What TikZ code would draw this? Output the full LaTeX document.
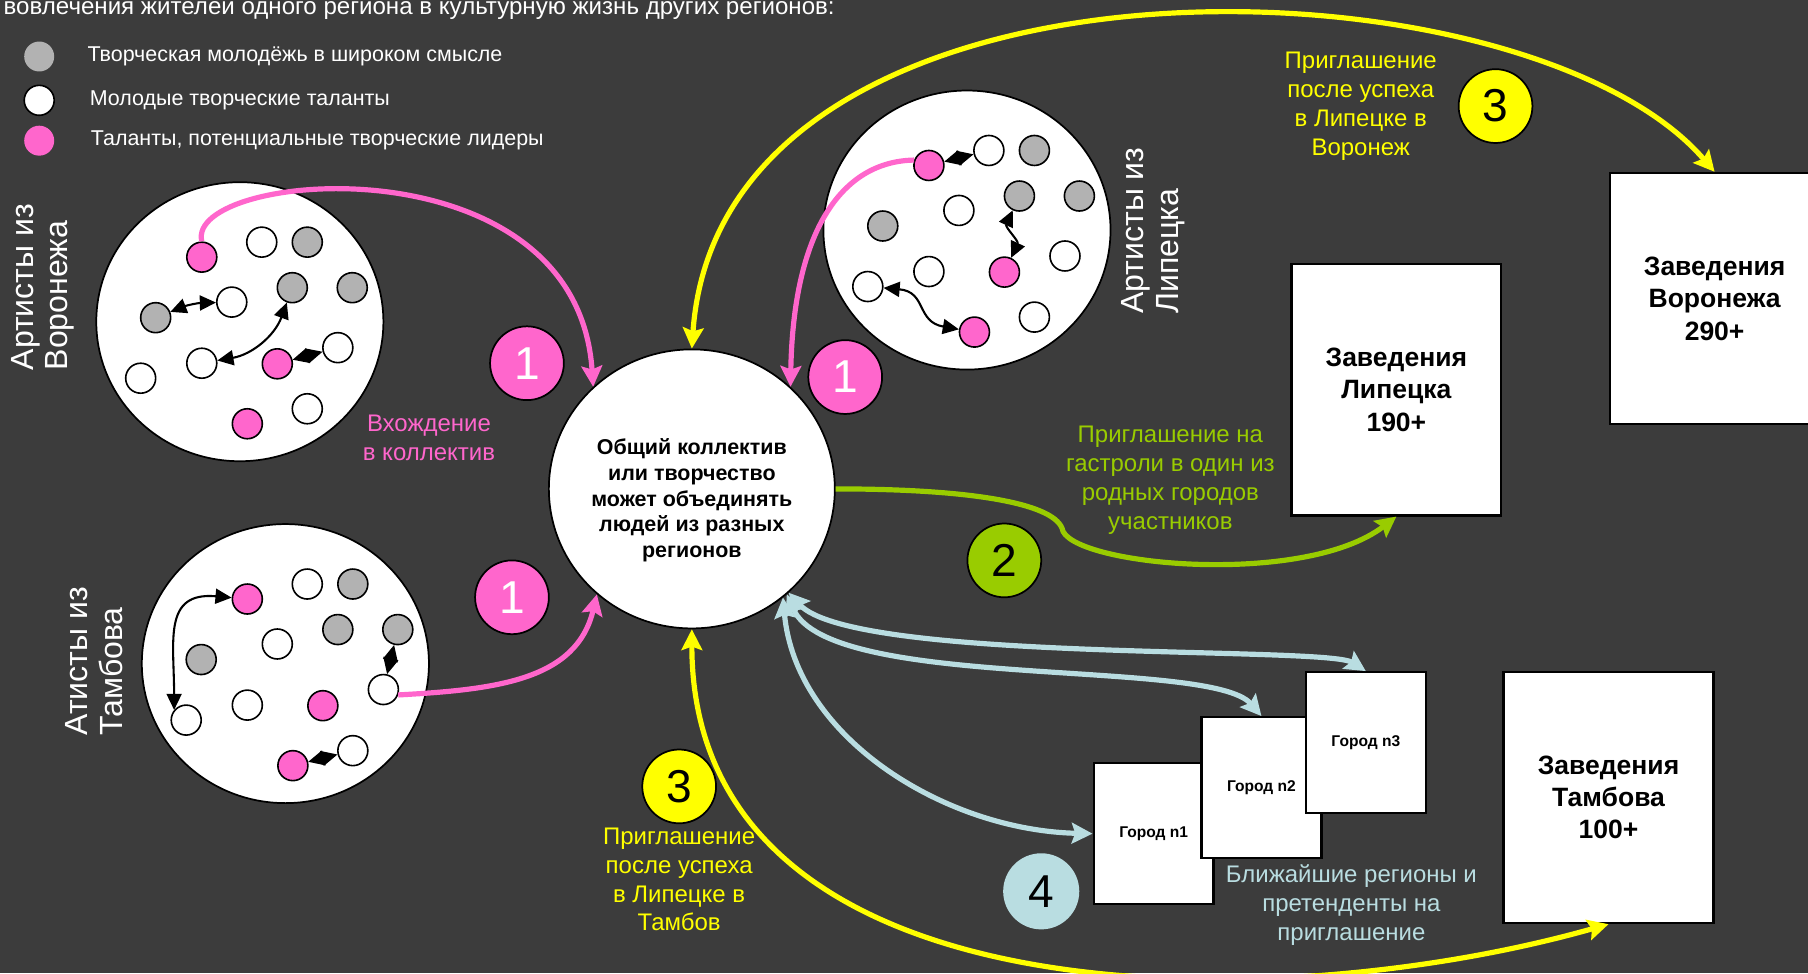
\documentclass[tikz,border=0pt]{standalone}
\usepackage{fontspec}
\setmainfont{Liberation Sans}
\usetikzlibrary{positioning, calc, shapes.geometric, arrows.meta}

\definecolor{boardgray}{HTML}{3C3C3C}
\definecolor{dotgray}{HTML}{B2B2B2}
\definecolor{talpink}{HTML}{FF66CC}
\definecolor{invyellow}{HTML}{FFFF00}
\definecolor{tourgreen}{HTML}{99CC00}
\definecolor{nearblue}{HTML}{B9DDE1}

\begin{document}
\begin{tikzpicture}[x=1pt, y=1pt,
    dot/.style={circle, draw=black, line width=1.4pt, minimum size=26pt, inner sep=0pt},
    gdot/.style={dot, fill=dotgray},
    wdot/.style={dot, fill=white},
    pdot/.style={dot, fill=talpink},
    group/.style={ellipse, draw=black, line width=1.5pt, fill=white, minimum width=249pt, minimum height=242pt},
    hub/.style={ellipse, draw=black, line width=1.5pt, fill=white, minimum width=248pt, minimum height=242pt},
    tie/.style={{Triangle[length=14pt,width=13pt]}-{Triangle[length=14pt,width=13pt]}, line width=1.8pt, black},
    badge/.style={circle, draw=black, line width=1.5pt, minimum size=64pt, inner sep=0pt, font=\fontsize{40}{40}\selectfont},
    venue/.style={draw=black, line width=2pt, fill=white, minimum width=182pt, minimum height=218pt, align=center, font=\bfseries\fontsize{23}{28}\selectfont},
    city/.style={draw=black, line width=2pt, fill=white, minimum width=104pt, minimum height=122pt, font=\bfseries\fontsize{13.5}{16}\selectfont},
    keytext/.style={inner sep=0pt, text=white, font=\fontsize{18.6}{24}\selectfont},
    remark/.style={align=center, inner sep=0pt, font=\fontsize{20.8}{25}\selectfont},
    region/.style={rotate=90, align=left, inner sep=0pt, text=white, font=\fontsize{27.8}{30}\selectfont},
    flow/.style={line width=4.5pt, -{Stealth[length=18pt,width=18pt,inset=3pt]}},
    twoway/.style={line width=4.5pt, {Stealth[length=18pt,width=18pt,inset=3pt]}-{Stealth[length=18pt,width=18pt,inset=3pt]}}]

    \useasboundingbox (0,0) rectangle (1568,-844);
    \fill[boardgray] (0,0) rectangle (1568,-844);

    \node[keytext, anchor=base west, font=\fontsize{20.9}{24}\selectfont] (head) at (3,-13)
        {вовлечения жителей одного региона в культурную жизнь других регионов:};

    % legend
    \node[gdot, draw=none] (lg_1) at (34,-49) {};
    \node[wdot] (lg_2) at (34,-87) {};
    \node[pdot, draw=none] (lg_3) at (34,-122) {};
    \node[keytext, right=28pt of lg_1] {Творческая молодёжь в широком смысле};
    \node[keytext, right=30pt of lg_2] {Молодые творческие таланты};
    \node[keytext, right=31pt of lg_3] {Таланты, потенциальные творческие лидеры};

    % three groups of artists
    \foreach \grp/\x/\y in {vor/208/-279, lip/838.6/-199.5, tam/247.5/-575.5}
        \node[group] (\grp) at (\x,\y) {};
    \foreach \grp in {vor, lip, tam}
        \foreach \i/\dx/\dy/\kind in {1/-33/56/pdot, 2/19/69/wdot, 3/58.5/69/gdot,
                4/45.5/29.5/gdot, 5/97.5/29.5/gdot, 6/-73/3.5/gdot, 7/-7/17/wdot,
                8/-33/-36/wdot, 9/32.5/-36.5/pdot, 10/85/-22.5/wdot, 11/-86/-49/wdot,
                12/6.5/-88.5/pdot, 13/58.5/-75.5/wdot}
            \node[\kind] (\grp_\i) at ($(\grp)+(\dx,\dy)$) {};

    \node[region] (vor_lbl) at (37,-249) {Артисты из\\Воронежа};
    \node[region] (lip_lbl) at (1000,-200) {Артисты из\\Липецка};
    \node[region] (tam_lbl) at (81.5,-573.5) {Атисты из\\Тамбова};

    % common group
    \node[hub] (coll) at (600,-424) {};
    \node[align=center, font=\bfseries\fontsize{18.6}{22.3}\selectfont] (coll_txt) at ([yshift=-10pt]coll.center)
        {Общий коллектив\\или творчество\\может объединять\\людей из разных\\регионов};

    % venues and cities
    \node[venue] (z_lip) at (1211,-338) {Заведения\\Липецка\\190+};
    \node[venue] (z_vor) at (1487,-259) {Заведения\\Воронежа\\290+};
    \node[venue] (z_tam) at (1395,-691.5) {Заведения\\Тамбова\\100+};
    \node[city] (g_1) at (1000.5,-723) {Город n1};
    \node[city] (g_2) at (1094,-683) {Город n2};
    \node[city] (g_3) at (1184.5,-644) {Город n3};

    % badges
    \node[badge, fill=talpink, text=white] (b1_vor) at (457,-315) {1};
    \node[badge, fill=talpink, text=white] (b1_lip) at (733,-327) {1};
    \node[badge, fill=talpink, text=white] (b1_tam) at (444,-518) {1};
    \node[badge, fill=tourgreen] (b2) at (871,-486) {2};
    \node[badge, fill=invyellow] (b3_vor) at (1297,-92) {3};
    \node[badge, fill=invyellow] (b3_tam) at (589,-682) {3};
    \node[badge, fill=nearblue, draw=none, minimum size=66pt] (b4) at (903,-773) {4};

    \node[remark, text=talpink] (join_txt) at (372,-380) {Вхождение\\в коллектив};
    \node[remark, text=invyellow, left=18pt of b3_vor] (vor_txt) {Приглашение\\после успеха\\в Липецке в\\Воронеж};
    \node[remark, text=invyellow, below=3pt of b3_tam] (tam_txt) {Приглашение\\после успеха\\в Липецке в\\Тамбов};
    \node[remark, text=tourgreen] (tour_txt) at (1015,-416.5) {Приглашение на\\гастроли в один из\\родных городов\\участников};
    \node[remark, text=nearblue] (near_txt) at (1172,-785) {Ближайшие регионы и\\претенденты на\\приглашение};

    % links inside the groups
    \path[tie]
        (vor_6) edge[bend left=10] (vor_7)
        (vor_4) edge[bend left=30] (vor_8)
        (vor_9) edge (vor_10)
        (lip_1) edge (lip_2)
        (lip_4) edge[out=-115, in=65] (lip_9)
        (lip_11) edge[out=-5, in=170, looseness=1.3] (lip_12)
        (tam_1) edge[out=175, in=90, looseness=1.4] (tam_11.140)
        (tam_10) edge (tam_5)
        (tam_12) edge (tam_13);

    % joining the common group
    \draw[flow, talpink] (vor_1.north) .. controls (160,-148) and (500,-118) .. (coll.134);
    \draw[flow, talpink] (lip_1.160) .. controls (730,-140) and (688,-200) .. (coll.46);
    \draw[flow, talpink] (tam_10.-20) .. controls (430,-598) and (500,-590) .. (coll.-132);

    % invitations
    \coordinate (kink) at (921,-458);
    \draw[flow, tourgreen] (coll.east) .. controls (840,-424) and (912,-436) .. (kink)
        .. controls (925,-490) and (1130,-510) .. (z_lip.south);
    \draw[twoway, invyellow] (coll.north) .. controls (625,62) and (1320,45) .. (z_vor.north);
    \draw[twoway, invyellow] (coll.south) .. controls (600,-885) and (1100,-885) .. (z_tam.south);
    \draw[twoway, nearblue] (coll.-47) .. controls (740,-575) and (1150,-560) .. (g_3.north);
    \draw[twoway, nearblue] (coll.-48) .. controls (720,-600) and (1050,-570) .. (g_2.north);
    \draw[twoway, nearblue] (coll.-50) .. controls (690,-640) and (820,-720) .. (g_1.west);

\end{tikzpicture}
\end{document}
